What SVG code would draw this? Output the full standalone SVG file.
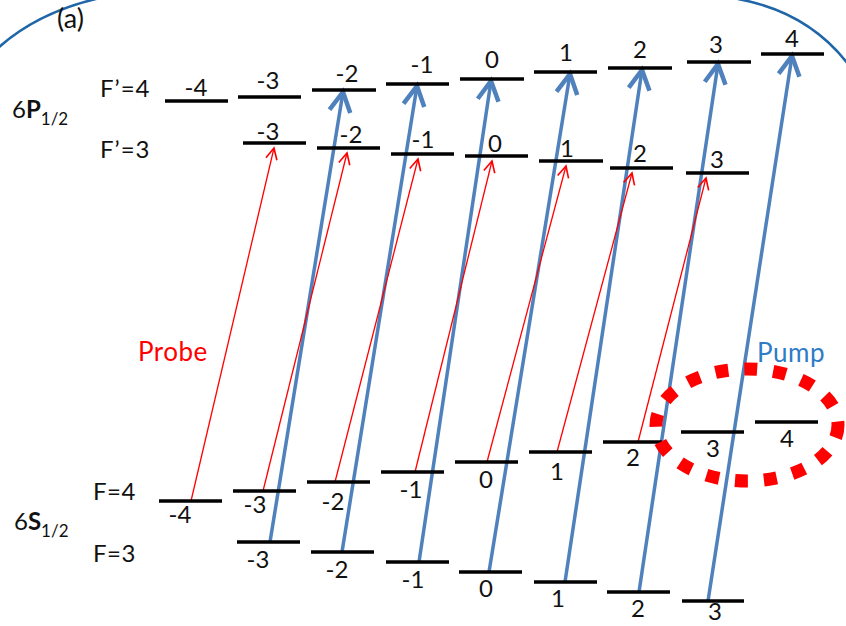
<svg xmlns="http://www.w3.org/2000/svg" width="846" height="626" viewBox="0 0 846 626">
<style>
text{font-family:Lato,"Liberation Sans","DejaVu Sans",sans-serif;font-size:24px;fill:#111}
.lv{stroke:#000;stroke-width:3.5;fill:none}
.c{text-anchor:middle}
.pump{stroke:#4f81bd;stroke-width:3.5;fill:none;marker-end:url(#hb)}
.probe{stroke:#ff0000;stroke-width:1.3;fill:none;marker-end:url(#hr)}
</style>
<defs>
<marker id="hb" markerUnits="userSpaceOnUse" markerWidth="30" markerHeight="30" refX="0" refY="0" viewBox="-15 -10 20 20" orient="auto" overflow="visible">
<path d="M-13,-7 L0,0 L-13,7" fill="none" stroke="#4f81bd" stroke-width="3" stroke-linejoin="miter"/>
</marker>
<marker id="hr" markerUnits="userSpaceOnUse" markerWidth="20" markerHeight="20" refX="0" refY="0" viewBox="-12 -8 16 16" orient="auto" overflow="visible">
<path d="M-9,-4.5 L0,0 L-9,4.5" fill="none" stroke="#ff0000" stroke-width="1.3"/>
</marker>
</defs>
<rect width="846" height="626" fill="#fff"/>
<g id="frame" fill="none" stroke="#1f65a8" stroke-width="2.5">
<path d="M-2,48 Q38,12 100,-2"/>
<path d="M738,-1 Q808,12 848,64"/>
</g>
<text x="57" y="28" style="font-size:27px">(a)</text>
<g id="labels">
<text x="12" y="118">6<tspan font-weight="bold">P</tspan><tspan font-size="17" dy="7">1/2</tspan></text>
<text x="100" y="97" letter-spacing="1">F’=4</text>
<text x="100" y="158" letter-spacing="1">F’=3</text>
<text x="14" y="530">6<tspan font-weight="bold">S</tspan><tspan font-size="17" dy="7">1/2</tspan></text>
<text x="93" y="500" letter-spacing="0.5">F=4</text>
<text x="93" y="562" letter-spacing="0.5">F=3</text>
<text x="138" y="361" style="fill:#ff0000;font-size:26px" letter-spacing="0.5">Probe</text>
<text x="757" y="362" style="fill:#2e7bc6;font-size:26px" letter-spacing="0.5">Pump</text>
</g>
<g id="connectors">
<line class="pump" x1="270" y1="542" x2="343" y2="92"/>
<line class="pump" x1="342" y1="552" x2="417" y2="86"/>
<line class="pump" x1="419" y1="562" x2="491" y2="81"/>
<line class="pump" x1="489" y1="572" x2="570" y2="74"/>
<line class="pump" x1="565" y1="582" x2="642" y2="70"/>
<line class="pump" x1="639" y1="592" x2="718" y2="64"/>
<line class="pump" x1="708" y1="601" x2="792" y2="56"/>
<line class="probe" x1="191" y1="501" x2="274" y2="148"/>
<line class="probe" x1="263" y1="491" x2="347" y2="153"/>
<line class="probe" x1="335" y1="482" x2="418" y2="159"/>
<line class="probe" x1="415" y1="472" x2="492" y2="161"/>
<line class="probe" x1="487" y1="462" x2="566" y2="166"/>
<line class="probe" x1="557" y1="452" x2="632" y2="173"/>
<line class="probe" x1="638" y1="442" x2="706" y2="178"/>
</g>
<g id="P4">
<g id="p4m-4"><line class="lv" x1="165" y1="101" x2="228" y2="101"/><text class="c" x="196" y="96">-4</text></g>
<g id="p4m-3"><line class="lv" x1="238" y1="97" x2="301" y2="97"/><text class="c" x="268" y="89">-3</text></g>
<g id="p4m-2"><line class="lv" x1="312" y1="90" x2="376" y2="90"/><text class="c" x="347" y="82">-2</text></g>
<g id="p4m-1"><line class="lv" x1="386" y1="84" x2="449" y2="84"/><text class="c" x="422" y="73">-1</text></g>
<g id="p4m0"><line class="lv" x1="460" y1="79" x2="524" y2="79"/><text class="c" x="492" y="68">0</text></g>
<g id="p4m1"><line class="lv" x1="534" y1="72" x2="597" y2="72"/><text class="c" x="566" y="61">1</text></g>
<g id="p4m2"><line class="lv" x1="608" y1="68" x2="672" y2="68"/><text class="c" x="640" y="58">2</text></g>
<g id="p4m3"><line class="lv" x1="687" y1="62" x2="751" y2="62"/><text class="c" x="716" y="53">3</text></g>
<g id="p4m4"><line class="lv" x1="761" y1="54" x2="824" y2="54"/><text class="c" x="792" y="47">4</text></g>
</g>
<g id="P3">
<g id="p3m-3"><line class="lv" x1="243" y1="143" x2="306" y2="143"/><text class="c" x="268" y="140">-3</text></g>
<g id="p3m-2"><line class="lv" x1="317" y1="148" x2="380" y2="148"/><text class="c" x="351" y="143">-2</text></g>
<g id="p3m-1"><line class="lv" x1="391" y1="154" x2="454" y2="154"/><text class="c" x="423" y="148">-1</text></g>
<g id="p3m0"><line class="lv" x1="465" y1="156" x2="528" y2="156"/><text class="c" x="495" y="152">0</text></g>
<g id="p3m1"><line class="lv" x1="539" y1="161" x2="603" y2="161"/><text class="c" x="567" y="157">1</text></g>
<g id="p3m2"><line class="lv" x1="610" y1="168" x2="673" y2="168"/><text class="c" x="640" y="162">2</text></g>
<g id="p3m3"><line class="lv" x1="686" y1="173" x2="749" y2="173"/><text class="c" x="717" y="168">3</text></g>
</g>
<g id="S4">
<g id="s4m-4"><line class="lv" x1="159" y1="501" x2="222" y2="501"/><text class="c" x="180" y="523">-4</text></g>
<g id="s4m-3"><line class="lv" x1="233" y1="491" x2="296" y2="491"/><text class="c" x="255" y="513">-3</text></g>
<g id="s4m-2"><line class="lv" x1="307" y1="482" x2="370" y2="482"/><text class="c" x="333" y="510">-2</text></g>
<g id="s4m-1"><line class="lv" x1="381" y1="472" x2="444" y2="472"/><text class="c" x="411" y="498">-1</text></g>
<g id="s4m0"><line class="lv" x1="455" y1="462" x2="518" y2="462"/><text class="c" x="486" y="488">0</text></g>
<g id="s4m1"><line class="lv" x1="529" y1="452" x2="592" y2="452"/><text class="c" x="557" y="480">1</text></g>
<g id="s4m2"><line class="lv" x1="603" y1="442" x2="662" y2="442"/><text class="c" x="633" y="466">2</text></g>
<g id="s4m3"><line class="lv" x1="681" y1="432" x2="744" y2="432"/><text class="c" x="713" y="457">3</text></g>
<g id="s4m4"><line class="lv" x1="755" y1="422" x2="818" y2="422"/><text class="c" x="787" y="447">4</text></g>
</g>
<g id="S3">
<g id="s3m-3"><line class="lv" x1="237" y1="542" x2="300" y2="542"/><text class="c" x="258" y="568">-3</text></g>
<g id="s3m-2"><line class="lv" x1="311" y1="552" x2="374" y2="552"/><text class="c" x="337" y="578">-2</text></g>
<g id="s3m-1"><line class="lv" x1="386" y1="562" x2="449" y2="562"/><text class="c" x="413" y="588">-1</text></g>
<g id="s3m0"><line class="lv" x1="459" y1="572" x2="522" y2="572"/><text class="c" x="486" y="597">0</text></g>
<g id="s3m1"><line class="lv" x1="534" y1="582" x2="597" y2="582"/><text class="c" x="558" y="607">1</text></g>
<g id="s3m2"><line class="lv" x1="607" y1="592" x2="670" y2="592"/><text class="c" x="638" y="617">2</text></g>
<g id="s3m3"><line class="lv" x1="682" y1="601" x2="744" y2="601"/><text class="c" x="715" y="620">3</text></g>
</g>
<ellipse id="highlight" cx="747" cy="425" rx="91" ry="56" fill="none" stroke="#ff0000" stroke-width="13" stroke-dasharray="13 16"/>
</svg>
